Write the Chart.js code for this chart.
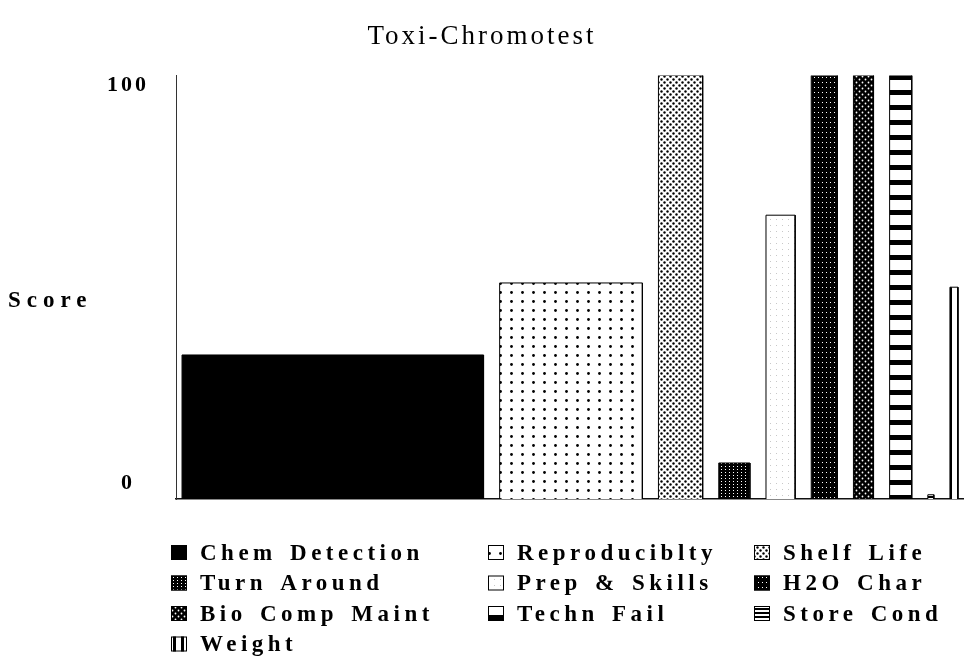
<!DOCTYPE html>
<html><head><meta charset="utf-8">
<script src="https://cdn.jsdelivr.net/npm/chart.js@4/dist/chart.umd.min.js"></script>
<style>html,body{margin:0;padding:0;background:#fff}#wrap{width:964px;height:672px}</style>
</head><body><div id="wrap"><canvas id="c" width="964" height="672"></canvas></div>
<script>
// ---- data ----
const categories = ['Chem Detection','Reproduciblty','Shelf Life','Turn Around','Prep & Skills','H2O Char','Bio Comp Maint','Techn Fail','Store Cond','Weight'];
const scores  = [34, 51, 100, 8.5, 67, 100, 100, 100, 1, 50];
const weights = [30, 14.2, 4.4, 3.1, 2.9, 2.6, 2.0, 2.2, 0.6, 0.8];
const yTicks  = [0, 100];
const yTickLabels = ['0', '100'];
const chartTitle = 'Toxi-Chromotest';
const yTitle = 'Score';

// ---- styling ----
const GAP = 1.6, LEAD = 0.6, TRAIL = 0.6;
const SERIF = '"Liberation Serif", "Times New Roman", serif';

function tile(w, h, bg, draw) {
  const c = document.createElement('canvas'); c.width = w; c.height = h;
  const g = c.getContext('2d');
  g.fillStyle = bg; g.fillRect(0, 0, w, h);
  draw(g);
  return g.createPattern(c, 'repeat');
}
function dot(g, x, y, r, col) { g.fillStyle = col; g.beginPath(); g.arc(x, y, r, 0, Math.PI * 2); g.fill(); }

const fills = [
  '#000',
  tile(11, 9, '#fff', g => dot(g, 5.5, 4.5, 1.4, '#000')),
  tile(6, 6, '#fff', g => { dot(g, 1.5, 1.5, 1.2, '#000'); dot(g, 4.5, 4.5, 1.2, '#000'); }),
  tile(4, 3, '#000', g => { g.fillStyle = '#fff'; g.fillRect(1, 1, 1, 1); }),
  tile(6, 6, '#fff', g => { g.fillStyle = '#c8c8c8'; g.fillRect(2, 3, 1, 1); }),
  tile(4, 5, '#000', g => { g.fillStyle = '#fff'; g.fillRect(2, 2, 1, 1); }),
  tile(6, 6, '#000', g => { dot(g, 1.5, 1.5, 0.9, '#fff'); dot(g, 4.5, 4.5, 0.9, '#fff'); }),
  tile(4, 15, '#fff', g => { g.fillStyle = '#000'; g.fillRect(0, 0, 4, 5); }),
  tile(4, 4, '#fff', g => { g.fillStyle = '#000'; g.fillRect(0, 0, 4, 2); }),
  tile(8, 4, '#fff', g => { g.fillStyle = '#000'; g.fillRect(5, 0, 3, 4); })
];

// build one rectangle outline per category from weights (widths) and scores (heights)
let cursor = LEAD;
const datasets = categories.map((name, i) => {
  const x0 = cursor, x1 = cursor + weights[i];
  cursor = x1 + GAP;
  return {
    label: name,
    data: [{x: x0, y: 0}, {x: x0, y: scores[i]}, {x: x1, y: scores[i]}, {x: x1, y: 0}],
    backgroundColor: fills[i],
    borderColor: '#000',
    borderWidth: 1,
    fill: 'origin',
    pointRadius: 0,
    tension: 0,
    borderJoinStyle: 'miter'
  };
});
const xMax = cursor - GAP + TRAIL;

const decor = {
  id: 'decor',
  beforeDraw(chart) { chart.ctx.letterSpacing = '3px'; },
  afterDraw(chart) {
    const ctx = chart.ctx, y = chart.scales.y;
    ctx.save();
    ctx.fillStyle = '#000';
    ctx.textBaseline = 'middle';
    // y title (horizontal)
    ctx.font = 'bold 23px ' + SERIF;
    ctx.letterSpacing = '6px';
    ctx.textAlign = 'left';
    ctx.fillText(yTitle, 8, 301);
    // y tick labels
    ctx.font = 'bold 22px ' + SERIF;
    ctx.letterSpacing = '3px';
    ctx.textAlign = 'center';
    yTicks.forEach((v, i) => {
      const py = y.getPixelForValue(v) + (v === y.max ? 10 : -16);
      ctx.fillText(yTickLabels[i], 128, py);
    });
    // legend grid
    const cols = [171, 488, 754], row0 = 553, rowH = 30.5;
    ctx.font = 'bold 23px ' + SERIF;
    ctx.letterSpacing = '4.5px';
    ctx.wordSpacing = '3px';
    ctx.textAlign = 'left';
    categories.forEach((name, i) => {
      const cx = cols[i % 3], cy = row0 + Math.floor(i / 3) * rowH;
      ctx.fillStyle = fills[i];
      ctx.fillRect(cx, cy - 8, 16, 15);
      ctx.lineWidth = 1; ctx.strokeStyle = '#000';
      ctx.strokeRect(cx + 0.5, cy - 7.5, 15, 14);
      ctx.fillStyle = '#000';
      ctx.fillText(name, cx + 29, cy + 1);
    });
    ctx.restore();
  }
};

new Chart(document.getElementById('c'), {
  type: 'line',
  data: { datasets },
  plugins: [decor],
  options: {
    responsive: false, animation: false, devicePixelRatio: 1,
    layout: { padding: 0 },
    plugins: {
      legend: { display: false },
      tooltip: { enabled: false },
      title: { display: true, text: chartTitle, color: '#000',
        font: { family: SERIF, size: 27, weight: 'normal', lineHeight: 1.2 },
        padding: { top: 21, bottom: 22 } }
    },
    scales: {
      x: { type: 'linear', min: 0, max: xMax,
        ticks: { display: false }, grid: { display: false, drawTicks: false },
        border: { display: true, color: '#111', width: 1.5 },
        afterFit(s) { s.height = 173; } },
      y: { type: 'linear', min: 0, max: 100,
        afterBuildTicks(s) { s.ticks = yTicks.map(v => ({ value: v })); },
        ticks: { display: false }, grid: { display: false, drawTicks: false },
        border: { display: true, color: '#333', width: 1 },
        afterFit(s) { s.width = 176; } }
    }
  }
});
</script>
</body></html>
